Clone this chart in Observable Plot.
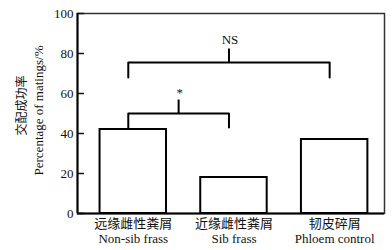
<!DOCTYPE html>
<html><head><meta charset="utf-8">
<script src="https://cdn.jsdelivr.net/npm/d3@7"></script>
<script src="https://cdn.jsdelivr.net/npm/@observablehq/plot@0.6"></script>
<style>body{margin:0;background:#fff}</style>
</head><body><div id="chart"></div>
<script>
const categoriesZh = ["远缘雌性粪屑", "近缘雌性粪屑", "韧皮碎屑"];
const categoriesEn = ["Non-sib frass", "Sib frass", "Phloem control"];
const values = [42, 18, 37];
const yTicks = [0, 20, 40, 60, 80, 100];
const compFrom = [0, 0];
const compTo = [2, 1];
const compLabel = ["NS", "*"];
const compBar = [75.5, 50];
const compLeg = [68, 43];
const compStem = [82.5, 57];
const compText = [85, 58.5];

const bars = values.map((v, i) => ({i, value: v}));
const comps = compLabel.map((l, k) => ({
  k, label: l, from: compFrom[k], to: compTo[k], bar: compBar[k], leg: compLeg[k],
  stem: compStem[k], text: compText[k], mid: (compFrom[k] + compTo[k]) / 2
}));
const bracketPts = comps.flatMap(c => [
  {k: c.k, x: c.from, y: c.leg}, {k: c.k, x: c.from, y: c.bar},
  {k: c.k, x: c.to, y: c.bar}, {k: c.k, x: c.to, y: c.leg}
]);
const half = 0.33;
const font = "'Liberation Serif', 'Times New Roman', 'Noto Sans CJK SC', serif";

const chart = Plot.plot({
  width: 392, height: 250,
  marginLeft: 77, marginRight: 8, marginTop: 13, marginBottom: 37,
  style: {fontFamily: font, fontSize: "13px", color: "#111", background: "white"},
  x: {type: "linear", domain: [-0.554, 2.495]},
  y: {domain: [0, 100]},
  marks: [
    Plot.frame({stroke: "#333", strokeWidth: 1.5}),
    Plot.rectY(bars, {x1: d => d.i - half, x2: d => d.i + half, y: "value", fill: "white", stroke: "black", strokeWidth: 2}),
    Plot.line(bracketPts, {x: "x", y: "y", z: "k", stroke: "black", strokeWidth: 2, dx: -5}),
    Plot.link(comps, {x1: "mid", x2: "mid", y1: "bar", y2: "stem", stroke: "black", strokeWidth: 2, dx: -5}),
    Plot.text(comps, {x: "mid", y: "text", text: "label", lineAnchor: "bottom", dx: -4, fontSize: 13, fill: "#111"}),
    Plot.axisY({ticks: yTicks, tickSize: -7, text: null, strokeWidth: 1.5}),
    Plot.axisY({ticks: yTicks, tickSize: 0, tickPadding: 4, label: null, fontSize: 13}),
    Plot.ruleX([0], {x: () => -0.554, stroke: "black", strokeWidth: 2}),
    Plot.ruleY([0], {stroke: "black", strokeWidth: 2}),
    Plot.axisX({ticks: [0, 1, 2], tickSize: 0, tickPadding: 4, label: null, lineHeight: 1.15,
      tickFormat: i => categoriesZh[i] + "\n" + categoriesEn[i], fontSize: 13}),
    Plot.text(["交配成功率"], {frameAnchor: "left", textAnchor: "middle", rotate: -90, dx: -55, dy: -8, fontSize: 12, fill: "#111"}),
    Plot.text(["Percentage of matings/%"], {frameAnchor: "left", textAnchor: "middle", rotate: -90, dx: -39, dy: -3, fontSize: 13, fill: "#111"})
  ]
});
document.getElementById("chart").appendChild(chart);
</script>
</body></html>
